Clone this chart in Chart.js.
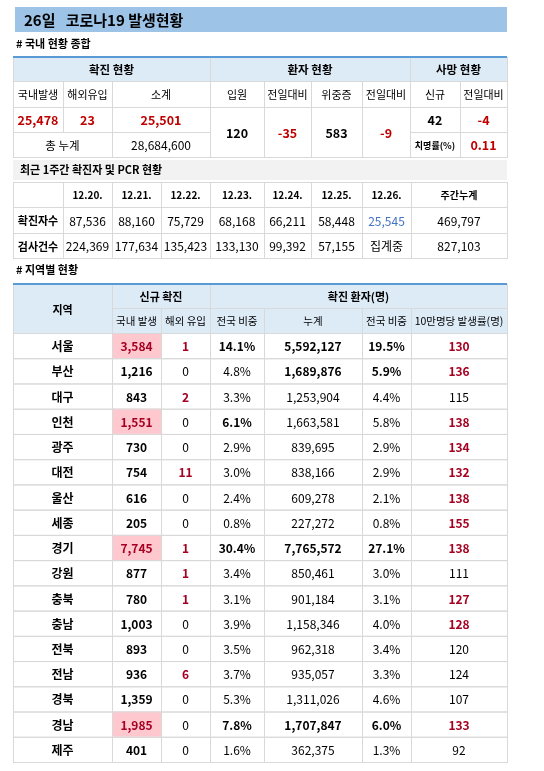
<!DOCTYPE html>
<html><head><meta charset="utf-8">
<script src="https://cdn.jsdelivr.net/npm/chart.js@4"></script>
<style>html,body{margin:0;padding:0;background:#fff}#wrap{width:544px;height:771px}</style>
</head><body><div id="wrap"><canvas id="board"></canvas></div>
<script>
// 국내 현황 종합
const summaryTop = ['확진 현황', '환자 현황', '사망 현황'];
const summaryHead = ['국내발생', '해외유입', '소계', '입원', '전일대비', '위중증', '전일대비', '신규', '전일대비'];
const summaryVals = ['25,478', '23', '25,501', '120', '-35', '583', '-9', '42', '-4'];
const totalCum = '28,684,600';
const fatality = '0.11';

// 최근 1주간
const weekDates = ['12.20.', '12.21.', '12.22.', '12.23.', '12.24.', '12.25.', '12.26.', '주간누계'];
const weekCases = ['87,536', '88,160', '75,729', '68,168', '66,211', '58,448', '25,545', '469,797'];
const weekTests = ['224,369', '177,634', '135,423', '133,130', '99,392', '57,155', '집계중', '827,103'];

// 지역별
const regions = ['서울','부산','대구','인천','광주','대전','울산','세종','경기','강원','충북','충남','전북','전남','경북','경남','제주'];
const localNew = [3584,1216,843,1551,730,754,616,205,7745,877,780,1003,893,936,1359,1985,401];
const importNew = [1,0,2,0,0,11,0,0,1,1,1,0,0,6,0,0,0];
const shareNew = [14.1,4.8,3.3,6.1,2.9,3.0,2.4,0.8,30.4,3.4,3.1,3.9,3.5,3.7,5.3,7.8,1.6];
const cumCases = [5592127,1689876,1253904,1663581,839695,838166,609278,227272,7765572,850461,901184,1158346,962318,935057,1311026,1707847,362375];
const shareCum = [19.5,5.9,4.4,5.8,2.9,2.9,2.1,0.8,27.1,3.0,3.1,4.0,3.4,3.3,4.6,6.0,1.3];
const per100k = [130,136,115,138,134,132,138,155,138,111,127,128,120,124,107,133,92];

const F = '"Noto Sans CJK KR", "Noto Sans", sans-serif';
const RED = '#c00000', DRED = '#a50021', GRID = '#d9d9d9', HEAD = '#ddebf7', LINE = '#5b9bd5';
const fmt = n => n.toLocaleString('en-US');

const tablePlugin = {
  id: 'table',
  afterDraw(chart) {
    const c = chart.ctx, sx = chart.scales.x, sy = chart.scales.y;
    const X = v => sx.getPixelForValue(v), Y = v => sy.getPixelForValue(v);
    function cell(x0, x1, y0, y1, t, o = {}) {
      const a = X(x0), b = X(x1), p = Y(y0), q = Y(y1);
      if (o.fill) { c.fillStyle = o.fill; c.fillRect(a, p, b - a, q - p); }
      if (o.border !== false) { c.strokeStyle = GRID; c.lineWidth = 1; c.strokeRect(a + 0.5, p + 0.5, b - a, q - p); }
      if (t !== undefined && t !== '') {
        c.fillStyle = o.color || '#000';
        c.font = (o.bold ? 'bold ' : '') + (o.size || 11.5) + 'px ' + F;
        c.textAlign = 'center'; c.textBaseline = 'middle';
        c.fillText(t, (a + b) / 2, (p + q) / 2 + 1);
      }
    }
    function text(x, y, t, size, bold) {
      c.fillStyle = '#000'; c.font = (bold ? 'bold ' : '') + size + 'px ' + F;
      c.textAlign = 'left'; c.textBaseline = 'middle'; c.fillText(t, X(x), Y(y));
    }
    function blueLine(y) { c.fillStyle = LINE; c.fillRect(X(13), Y(y) - 1, X(507) - X(13), 2); }

    // title
    c.fillStyle = '#9dc3e6'; c.fillRect(X(15), Y(7), X(507) - X(15), Y(32) - Y(7));
    text(24, 20, '26일   코로나19 발생현황', 15, true);
    text(16, 44, '# 국내 현황 종합', 11, true);

    // table 1
    const c1 = [13, 63, 112, 210, 264, 311, 362, 410, 460, 507];
    cell(13, 210, 57, 81, summaryTop[0], { fill: HEAD, bold: true });
    cell(210, 410, 57, 81, summaryTop[1], { fill: HEAD, bold: true });
    cell(410, 507, 57, 81, summaryTop[2], { fill: HEAD, bold: true });
    summaryHead.forEach((h, i) => cell(c1[i], c1[i + 1], 81, 107, h, { size: 11 }));
    summaryVals.forEach((v, i) => {
      const span = (i >= 3 && i <= 6);
      const red = [0, 1, 2, 4, 6, 8].includes(i);
      cell(c1[i], c1[i + 1], 107, span ? 157 : 132, v, { bold: true, color: red ? RED : '#000', size: 12.5 });
    });
    cell(13, 112, 132, 157, '총 누계', { size: 11.5 });
    cell(112, 210, 132, 157, totalCum, { size: 12 });
    cell(410, 460, 132, 157, '치명률(%)', { size: 9, bold: true });
    cell(460, 507, 132, 157, fatality, { bold: true, color: RED, size: 12.5 });
    blueLine(57);

    // table 2
    c.fillStyle = '#f2f2f2'; c.fillRect(X(13), Y(160), X(507) - X(13), Y(180) - Y(160));
    text(20, 170, '최근 1주간 확진자 및 PCR 현황', 11, true);
    const c2 = [13, 63, 112, 161, 210, 264, 311, 362, 411, 507];
    cell(13, 63, 182, 207, '');
    weekDates.forEach((d, i) => cell(c2[i + 1], c2[i + 2], 182, 207, d, { bold: true, size: 10 }));
    cell(13, 63, 207, 233, '확진자수', { bold: true, size: 11 });
    weekCases.forEach((v, i) => cell(c2[i + 1], c2[i + 2], 207, 233, v, { size: 12, color: i === 6 ? '#4472c4' : '#000' }));
    cell(13, 63, 233, 258, '검사건수', { bold: true, size: 11 });
    weekTests.forEach((v, i) => cell(c2[i + 1], c2[i + 2], 233, 258, v, { size: 12 }));

    // table 3
    text(16, 270, '# 지역별 현황', 11, true);
    const c3 = [13, 112, 161, 210, 264, 362, 411, 507];
    cell(13, 112, 284, 333, '지역', { fill: HEAD, bold: true, size: 11 });
    cell(112, 210, 284, 308, '신규 확진', { fill: HEAD, bold: true, size: 11 });
    cell(210, 507, 284, 308, '확진 환자(명)', { fill: HEAD, bold: true, size: 11 });
    ['국내 발생', '해외 유입', '전국 비중', '누계', '전국 비중', '10만명당 발생률(명)'].forEach((h, i) =>
      cell(c3[i + 1], c3[i + 2], 308, 333, h, { fill: HEAD, size: 10.5 }));
    blueLine(284);
    const h = (762 - 333) / regions.length;
    regions.forEach((r, i) => {
      const y0 = 333 + i * h, y1 = y0 + h;
      const hot = localNew[i] >= 1500;
      cell(13, 112, y0, y1, r, { bold: true, size: 12 });
      cell(112, 161, y0, y1, fmt(localNew[i]), { bold: true, size: 12, fill: hot ? '#ffc7ce' : null, color: hot ? DRED : '#000' });
      cell(161, 210, y0, y1, String(importNew[i]), { bold: importNew[i] > 0, size: 12, color: importNew[i] > 0 ? DRED : '#000' });
      cell(210, 264, y0, y1, shareNew[i].toFixed(1) + '%', { bold: shareNew[i] >= 6, size: 12 });
      cell(264, 362, y0, y1, fmt(cumCases[i]), { bold: cumCases[i] >= 1680000, size: 12 });
      cell(362, 411, y0, y1, shareCum[i].toFixed(1) + '%', { bold: shareCum[i] >= 5.9, size: 12 });
      cell(411, 507, y0, y1, String(per100k[i]), { bold: per100k[i] >= 125, size: 12, color: per100k[i] >= 125 ? DRED : '#000' });
    });
  }
};

new Chart(document.getElementById('board'), {
  type: 'scatter',
  data: { datasets: [{ data: regions.map((r, i) => ({ x: 62, y: 345 + i * 25 })), pointRadius: 0 }] },
  options: {
    responsive: true,
    maintainAspectRatio: false,
    animation: false,
    layout: { padding: 0 },
    plugins: { legend: { display: false }, tooltip: { enabled: false } },
    scales: {
      x: { type: 'linear', min: 0, max: 544, display: false },
      y: { type: 'linear', min: 0, max: 771, reverse: true, display: false }
    }
  },
  plugins: [tablePlugin]
});
</script>
</body></html>
